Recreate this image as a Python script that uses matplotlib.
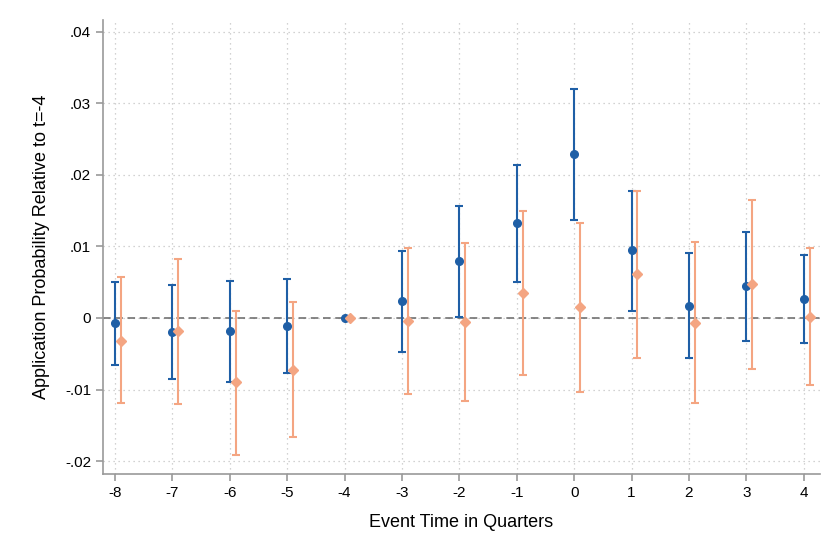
import numpy as np
import matplotlib.pyplot as plt

plt.rcParams["font.family"] = ["Liberation Sans", "DejaVu Sans"]

event_time = [-8, -7, -6, -5, -4, -3, -2, -1, 0, 1, 2, 3, 4]

# series 1 (blue circles)
b_est = [-0.0007, -0.0020, -0.0018, -0.0011, 0.0, 0.0024, 0.0080, 0.0132, 0.0229, 0.0095, 0.0017, 0.0044, 0.0026]
b_lo = [-0.0066, -0.0086, -0.0089, -0.0077, 0.0, -0.0047, 0.0002, 0.0050, 0.0137, 0.0010, -0.0056, -0.0032, -0.0035]
b_hi = [0.0050, 0.0046, 0.0052, 0.0054, 0.0, 0.0093, 0.0157, 0.0214, 0.0320, 0.0178, 0.0091, 0.0120, 0.0088]

# series 2 (orange diamonds)
o_est = [-0.0032, -0.0018, -0.0089, -0.0073, 0.0, -0.0004, -0.0006, 0.0035, 0.0015, 0.0061, -0.0007, 0.0047, 0.0002]
o_lo = [-0.0119, -0.0120, -0.0191, -0.0166, 0.0, -0.0106, -0.0116, -0.0080, -0.0104, -0.0056, -0.0119, -0.0071, -0.0093]
o_hi = [0.0057, 0.0082, 0.0010, 0.0022, 0.0, 0.0098, 0.0105, 0.0150, 0.0133, 0.0178, 0.0106, 0.0165, 0.0098]

yticks = [-0.02, -0.01, 0, 0.01, 0.02, 0.03, 0.04]
ytick_labels = ["-.02", "-.01", "0", ".01", ".02", ".03", ".04"]

blue = "#1f5fa6"
orange = "#f4a582"

fig = plt.figure(figsize=(8.4, 5.6), dpi=100)
ax = fig.add_axes([0.1226, 0.1536, 0.8534, 0.8104])

x = np.array(event_time, dtype=float)
offset = 0.1

ax.axhline(0, color="#666666", lw=1.1, ls=(0, (5, 3)), zorder=1)

# skip error bars for the reference period (all zeros)
has_ci = np.array(b_hi) != np.array(b_lo)
b_est_a, o_est_a = np.array(b_est), np.array(o_est)
b_err = [b_est_a - np.array(b_lo), np.array(b_hi) - b_est_a]
o_err = [o_est_a - np.array(o_lo), np.array(o_hi) - o_est_a]

ax.errorbar(x[has_ci], b_est_a[has_ci],
            yerr=[b_err[0][has_ci], b_err[1][has_ci]],
            fmt="none", ecolor=blue, elinewidth=1.5, capsize=3, capthick=1.5, zorder=3)
ax.errorbar(x[has_ci] + offset, o_est_a[has_ci],
            yerr=[o_err[0][has_ci], o_err[1][has_ci]],
            fmt="none", ecolor=orange, elinewidth=1.5, capsize=3, capthick=1.5, zorder=3)
ax.plot(x, b_est_a, "o", color=blue, ms=5.5, zorder=4)
ax.plot(x + offset, o_est_a, "D", color=orange, ms=5, zorder=5)

ax.set_xlim(-8.21, 4.28)
ax.set_ylim(-0.0218, 0.0416)
ax.set_xticks(event_time)
ax.set_xticklabels([str(t) for t in event_time])
ax.set_yticks(yticks)
ax.set_yticklabels(ytick_labels)

ax.grid(True, color="#c4c4c4", ls=(0, (1, 3)), lw=0.9)
ax.set_axisbelow(True)

for side in ["top", "right"]:
    ax.spines[side].set_visible(False)
for side in ["left", "bottom"]:
    ax.spines[side].set_color("#999999")
    ax.spines[side].set_linewidth(1.2)
ax.tick_params(colors="#999999", labelcolor="black", labelsize=11, length=5, width=1.2)

ax.set_xlabel("Event Time in Quarters", fontsize=13, labelpad=10)
ax.set_ylabel("Application Probability Relative to t=-4", fontsize=13, labelpad=11)

plt.savefig("out.png", dpi=100)
